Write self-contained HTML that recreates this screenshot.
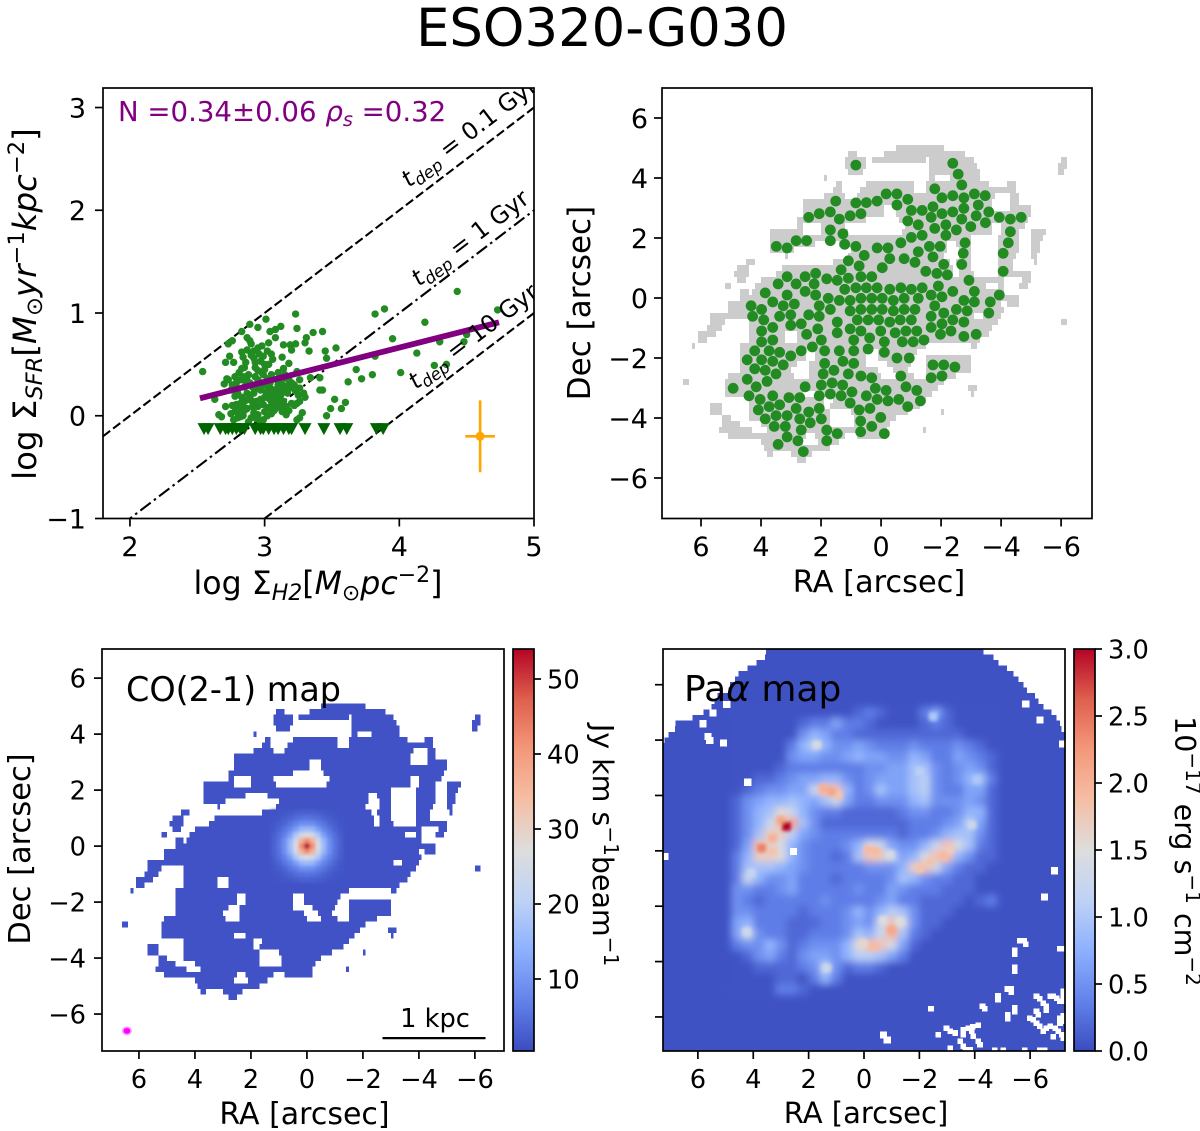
<!DOCTYPE html>
<html lang="en">
<head>
<meta charset="utf-8">
<title>ESO320-G030</title>
<style>
html,body{margin:0;padding:0;background:#fff}
svg{display:block}
text{font-family:"DejaVu Sans","Liberation Sans",sans-serif;fill:#000}
.tick{font-size:25.7px}
.lab{font-size:31px}
.it{font-style:italic}
</style>
</head>
<body>
<svg id="fig" xmlns="http://www.w3.org/2000/svg" width="1200" height="1131" viewBox="0 0 1200 1131">
<defs>
<clipPath id="cp1"><rect x="103" y="88" width="431" height="430.5"/></clipPath>
<clipPath id="cp2"><rect x="662" y="88" width="430" height="430.5"/></clipPath>
<clipPath id="cp3"><rect x="102" y="649" width="402" height="402"/></clipPath>
<clipPath id="cp4"><rect x="663" y="649" width="402" height="402"/></clipPath>
<filter id="blurPeak" filterUnits="userSpaceOnUse" x="100" y="640" width="410" height="420"><feGaussianBlur stdDeviation="1.5"/></filter>
<filter id="blurWide" filterUnits="userSpaceOnUse" x="650" y="640" width="430" height="420"><feGaussianBlur stdDeviation="3.7"/></filter>
<filter id="blurKnot" filterUnits="userSpaceOnUse" x="650" y="640" width="430" height="420"><feGaussianBlur stdDeviation="1.9"/></filter>
<linearGradient id="cbGrad" x1="0" y1="1" x2="0" y2="0"></linearGradient>
</defs>

<text x="602" y="46" text-anchor="middle" style="font-size:52.8px">ESO320-G030</text>

<g id="panel1"></g>
<g id="panel2"></g>
<g id="panel3"></g>
<g id="panel4"></g>

<text x="118" y="121" style="font-size:27.6px;fill:#800080">N =0.34±0.06 <tspan class="it" style="fill:#800080">ρ</tspan><tspan class="it" dy="5" font-size="19.3" style="fill:#800080">s</tspan><tspan dy="-5" style="fill:#800080"> =0.32</tspan></text>

<g clip-path="url(#cp1)">
<text transform="translate(409 188) rotate(-37.4)" style="font-size:23.8px"><tspan class="it">t</tspan><tspan class="it" dy="5" font-size="16.6">dep</tspan><tspan dy="-5"> = 0.1 Gyr</tspan></text>
<text transform="translate(419 287) rotate(-37.4)" style="font-size:23.8px"><tspan class="it">t</tspan><tspan class="it" dy="5" font-size="16.6">dep</tspan><tspan dy="-5"> = 1 Gyr</tspan></text>
<text transform="translate(416 390) rotate(-37.4)" style="font-size:23.8px"><tspan class="it">t</tspan><tspan class="it" dy="5" font-size="16.6">dep</tspan><tspan dy="-5"> = 10 Gyr</tspan></text>
</g>

<text x="318" y="594" text-anchor="middle" style="font-size:31.6px">log Σ<tspan class="it" dy="6" font-size="22">H2</tspan><tspan dy="-6">[</tspan><tspan class="it">M</tspan><tspan dy="6" font-size="22">⊙</tspan><tspan class="it" dy="-6">pc</tspan><tspan dy="-12" font-size="22">−2</tspan><tspan dy="12">]</tspan></text>
<text transform="translate(36 304) rotate(-90)" text-anchor="middle" style="font-size:32.4px">log Σ<tspan class="it" dy="6" font-size="22.6">SFR</tspan><tspan dy="-6">[</tspan><tspan class="it">M</tspan><tspan dy="6" font-size="22.6">⊙</tspan><tspan class="it" dy="-6">yr</tspan><tspan dy="-12" font-size="22.6">−1</tspan><tspan class="it" dy="12">kpc</tspan><tspan dy="-12" font-size="22.6">−2</tspan><tspan dy="12">]</tspan></text>

<text x="879" y="592" text-anchor="middle" style="font-size:30.4px">RA [arcsec]</text>
<text class="lab" transform="translate(590 303) rotate(-90)" text-anchor="middle">Dec [arcsec]</text>

<text x="304.5" y="1124" text-anchor="middle" style="font-size:30px">RA [arcsec]</text>
<text transform="translate(30 849) rotate(-90)" text-anchor="middle" style="font-size:30.5px">Dec [arcsec]</text>
<text x="126" y="701" style="font-size:33.4px">CO(2-1) map</text>
<text class="tick" x="435" y="1027" text-anchor="middle">1 kpc</text>
<text transform="translate(593 845) rotate(90)" text-anchor="middle" style="font-size:28.5px">Jy km s<tspan dy="-11" font-size="20">−1</tspan><tspan dy="11">beam</tspan><tspan dy="-11" font-size="20">−1</tspan></text>

<text x="866" y="1123" text-anchor="middle" style="font-size:29px">RA [arcsec]</text>
<text x="684" y="701" style="font-size:36px">Pa<tspan class="it">α</tspan> map</text>
<text transform="translate(1175 851) rotate(90)" text-anchor="middle" style="font-size:28.5px">10<tspan dy="-11" font-size="20">−17</tspan><tspan dy="11"> erg s</tspan><tspan dy="-11" font-size="20">−1</tspan><tspan dy="11"> cm</tspan><tspan dy="-11" font-size="20">−2</tspan></text>
</svg>

<script>
/* ---------- data: star-formation relation ---------- */
const ksDetections=[[4.43,1.21],[4.73,1.03],[3.82,.99],[3.89,1.04],[3.23,.99],[4.19,.91],[3.95,.75],[4.13,.61],[4.01,.42],[4.26,.49],[4.35,.5],[4.3,.72],[4.5,.79],[4.48,.72],[3.68,.45],[3.72,.36],[3.8,.4],[3.62,.33],[3.82,.58],[3.52,.16],[3.6,.13],[3.57,.07],[3.49,.07],[3.46,0],[3.53,.66],[3.45,.63],[3.46,.56],[3.43,.82],[3.36,.81],[3.31,.76],[3.3,.71],[3.33,.63],[3.34,.37],[3.41,.37],[3.43,.25],[3.41,.25],[3.24,.85],[3.12,.87],[3.08,.84],[3.04,.82],[3.01,.94],[2.95,.86],[2.89,.89],[2.83,.82],[2.76,.73],[2.73,.7],[2.87,.76],[2.89,.73],[3.08,.76],[3.03,.71],[3.14,.69],[3.19,.69],[3.23,.7],[3.2,.64],[2.87,.64],[2.92,.63],[2.95,.66],[3.02,.63],[2.99,.58],[2.92,.56],[2.84,.57],[2.74,.58],[2.77,.52],[2.71,.52],[2.54,.43],[2.72,.36],[2.7,.31],[2.63,.16],[2.71,.09],[2.66,.01],[2.68,-.01],[3.13,.57],[3.18,.51],[3.03,.5],[3,.5],[2.93,.47],[2.85,.47],[2.83,.46],[3.14,.46],[3.24,.43],[3.26,.35],[2.82,.35],[2.87,.38],[2.93,.38],[2.99,.4],[3.04,.32],[3.09,.35],[3.15,.4],[3.2,.32],[3.16,.29],[3.12,.25],[3.07,.25],[3.26,.27],[3.29,.22],[3.3,.18],[3.24,.12],[3.26,.14],[3.2,.12],[3.28,.03],[3.26,-.02],[3.24,-.04],[3.16,.01],[3.13,.04],[3.08,.07],[3.07,.16],[3.1,.16],[3,.04],[2.95,.01],[2.92,.03],[2.99,-.04],[2.97,-.06],[2.84,0],[2.82,-.01],[2.78,.04],[2.84,.1],[2.79,.11],[2.78,.19],[2.87,.22],[2.92,.22],[2.97,.16],[2.99,.11],[2.82,.12],[2.9,-.02],[2.77,-.04],[2.88,-.06],[3.04,.22],[3.08,.2],[2.79,.32],[2.89,.32],[2.94,.27],[3.02,.29],[3.09,.19],[2.73,.35],[3,.3],[3.05,.26],[3.1,.3],[3.12,.2],[3.05,.14],[3.1,.1],[2.85,.28],[2.8,.22],[2.9,.15],[2.8,.05],[2.95,.35],[3.15,.25],[3.18,.35],[2.97,.32],[2.85,.05],[3.06,.1],[3.07,.05],[2.88,.4],[3.02,.36],[2.93,.52],[2.9,.59],[2.96,.6],[2.81,.42],[3.11,.34],[3.22,.3],[3,.18],[3.14,.14],[2.75,.25],[2.83,.18],[2.86,.33],[2.91,.28],[2.97,.25],[3.01,.23],[3.03,.17],[3.06,.2],[3.09,.24],[3.11,.13],[3.13,.29],[3.17,.22],[3.19,.27],[3.23,.24],[3.25,.2],[3.12,.08],[3.07,.12],[3.03,.08],[2.95,.09],[2.91,.09],[2.87,.07],[2.81,.06],[2.76,.1],[2.75,.02],[2.8,-.02],[2.94,-.03],[3.02,0],[3.05,.02],[3.18,.05],[3.22,.1],[2.98,.42],[2.95,.44],[3.05,.4],[3.1,.42],[3,.45],[2.86,.52],[2.97,.53],[3.06,.55],[2.83,.62],[2.9,.7],[2.98,.68],[3.05,.6],[2.86,.15],[2.89,.19],[2.94,.14],[3.16,.09],[3.13,.35],[2.76,.3],[2.78,.38],[2.84,.38]];
const ksLimitX=[2.55,2.58,2.67,2.71,2.73,2.76,2.79,2.82,2.85,2.93,2.97,2.99,3.03,3.07,3.1,3.14,3.18,3.2,3.3,3.44,3.56,3.61,3.83,3.88];
const ksLimitY=-0.13;
const fitLineX=[2.52,4.74];
const fitLineY=[0.17,0.91];
const depletionOffsets=[-2,-3,-4];
const errorBarCenter=[4.6,-0.2];
const errorBarSize=[0.11,0.35];
const ksXTicks=[2,3,4,5];
const ksYTicks=[-1,0,1,2,3];

/* ---------- data: sampled apertures (RA, Dec in arcsec) ---------- */
const apertures=[[.84,4.43],[-2.39,4.49],[-2.57,4.13],[-2.69,3.77],[-1.79,3.64],[-.17,3.47],[-.53,3.47],[-.89,3.29],[-.53,3.1],[1.51,3.23],[.84,3.17],[.49,3.18],[.13,3.23],[-2.03,3.34],[-2.39,3.41],[-2.76,3.34],[-3.11,3.47],[-3.47,3.41],[-3.24,3.1],[-2.76,2.99],[-2.39,2.87],[-2.03,2.81],[-1.73,3.04],[-1.37,2.92],[-1.01,2.92],[-1.67,2.69],[-2.69,2.63],[-3.17,2.74],[-3.59,2.87],[-3.94,2.69],[-4.31,2.63],[-4.67,2.69],[-3.48,2.51],[-2.99,2.38],[-2.51,2.27],[-2.16,2.44],[-1.79,2.32],[-1.24,2.44],[-.89,2.57],[.67,2.81],[1.03,2.74],[1.39,2.63],[1.69,2.87],[2.06,2.81],[2.41,2.69],[1.69,2.27],[1.27,2.14],[1.69,1.91],[1.21,1.79],[.84,1.72],[2.48,1.91],[2.83,1.91],[3.13,1.67],[3.49,1.72],[-1.37,2.09],[-1.01,2.02],[-.66,1.84],[-2.16,2.09],[.13,1.67],[-.23,1.67],[.56,1.42],[-.29,1.31],[-.77,1.31],[-1.24,1.54],[-1.61,1.72],[-1.97,1.72],[-2.8,1.84],[-2.74,1.49],[-2.69,1.12],[-4.31,2.21],[-4.24,1.84],[-4.07,1.49],[-4.07,.89],[-1.73,1.37],[-1.13,1.19],[-2.09,1.12],[-.04,1.01],[.73,1.07],[1.09,1.24],[1.33,.94],[-1.49,.89],[-1.86,.82],[-2.21,.77],[-2.93,.59],[.67,.71],[.31,.71],[1.09,.66],[1.46,.59],[1.81,.64],[2.18,.82],[2.53,.71],[3.13,.71],[3.43,.47],[2.83,.47],[2.23,.47],[2.53,.22],[3.13,.1],[3.86,.17],[2.18,.1],[1.21,.29],[.84,.34],[.49,.34],[.13,.34],[-.29,.29],[-.66,.34],[-1.01,.29],[-1.37,.34],[-1.91,.4],[-2.39,.22],[-3.11,.22],[-3.94,.1],[1.76,-.01],[1.39,-.08],[1.03,-.08],[.67,-.01],[.31,-.01],[-.04,-.01],[-.41,-.08],[-.77,-.01],[-1.24,-.01],[-1.67,.1],[-2.03,.04],[-2.76,-.08],[-3.11,-.13],[-3.64,-.13],[4.33,-.26],[3.61,-.13],[3.26,-.26],[2.89,-.2],[2.06,-.26],[1.69,-.38],[1.03,-.43],[.67,-.38],[.31,-.38],[-.04,-.38],[-.41,-.43],[-.77,-.38],[-1.13,-.38],[-1.79,-.26],[-2.51,-.38],[-2.87,-.43],[-3.59,-.5],[4.28,-.61],[3.98,-.38],[3.38,-.61],[3.01,-.56],[2.41,-.56],[2.06,-.61],[-2.09,-.5],[3.91,-.73],[1.46,-.8],[.79,-.73],[.43,-.73],[.08,-.73],[-.29,-.8],[-.64,-.73],[-1.01,-.73],[-1.67,-.61],[-2.03,-.86],[-2.39,-.73],[-2.76,-.8],[3.61,-.98],[3.01,-.91],[2.66,-.86],[1.03,-1.03],[.67,-1.1],[2.11,-1.03],[.01,-1.1],[-.47,-1.16],[-.83,-1.1],[-1.19,-1.1],[-1.67,-.98],[3.98,-1.1],[2.48,-1.21],[1.46,-1.16],[-1.98,-1.21],[-2.33,-1.1],[-2.76,-1.28],[-3.17,-1.21],[3.61,-1.4],[3.98,-1.46],[1.99,-1.4],[.91,-1.4],[.38,-1.33],[-.11,-1.46],[-.71,-1.46],[-1.07,-1.46],[-1.43,-1.4],[4.21,-1.76],[3.73,-1.76],[3.38,-1.81],[2.66,-1.76],[2.29,-1.63],[1.88,-1.76],[1.39,-1.76],[.91,-1.76],[.43,-1.7],[-.11,-1.81],[3.01,-1.93],[4.46,-2.06],[3.98,-2.06],[3.61,-2.11],[-.53,-2],[-.94,-2],[1.88,-2.18],[1.27,-2.11],[.91,-2.18],[3.26,-2.23],[4.21,-2.36],[3.86,-2.41],[-1.73,-2.23],[-2.09,-2.23],[-2.46,-2.3],[1.57,-2.41],[3.5,-2.53],[1.93,-2.53],[1.09,-2.53],[.67,-2.6],[.31,-2.66],[-.66,-2.6],[-1.67,-2.66],[-2.03,-2.6],[4.46,-2.71],[3.8,-2.78],[1.63,-2.83],[1.99,-2.9],[1.28,-2.9],[4.16,-2.96],[4.93,-3.01],[2.53,-2.96],[.19,-3.01],[-.17,-3.08],[-.83,-2.96],[-1.19,-3.08],[.97,-3.13],[1.69,-3.2],[1.33,-3.26],[2.06,-3.26],[4.4,-3.26],[3.61,-3.26],[3.07,-3.32],[2.71,-3.32],[.49,-3.26],[.13,-3.38],[-.23,-3.43],[-.59,-3.38],[-1.31,-3.43],[4.03,-3.38],[1.03,-3.5],[-.89,-3.62],[3.73,-3.62],[3.38,-3.56],[2.83,-3.68],[2.06,-3.68],[4.09,-3.73],[.37,-3.68],[.73,-3.73],[2.41,-3.8],[3.5,-3.92],[3.13,-3.92],[2.71,-4.03],[1.99,-4.03],[.01,-3.98],[3.86,-4.03],[2.36,-4.16],[.68,-4.1],[3.56,-4.28],[3.19,-4.28],[.31,-4.28],[2.66,-4.4],[1.81,-4.4],[1.46,-4.52],[.68,-4.46],[-.11,-4.52],[3.13,-4.63],[2.77,-4.76],[1.81,-4.76],[3.43,-4.88],[2.59,-5.12]];

/* ---------- data: CO detection mask, rows of [dec, [east,west, east,west ...]] in arcsec ---------- */
const coMaskRows=[
[5,[-.5,-2.1]],
[4.8,[1.1,.8,-.1,-2.8]],
[4.6,[1.2,.5,.3,-1.5,-1.6,-3.1,-6,-6.2]],
[4.4,[1.2,.5,-1.6,-3.2,-5.9,-6.2]],
[4.2,[1.1,.6,-1.6,-3.3,-5.9,-6.1]],
[4,[1.9,1.8,-1.6,-1.8,-2.3,-3.3]],
[3.8,[1.5,1.3,.5,-1.1,-1.5,-3.6,-4.2,-4.5]],
[3.6,[1.6,1.3,.7,-1.1,-1.5,-4.5]],
[3.4,[1.9,1.2,.8,-3.8,-4.3,-4.6]],
[3.2,[2.6,-3.7,-4.3,-4.6]],
[3,[2.6,-.1,-.5,-3.7,-4.3,-5]],
[2.8,[2.6,-.1,-.5,-5]],
[2.6,[2.8,.5,-.6,-4.9]],
[2.4,[2.8,2.6,2,1.2,-.8,-3.7,-4,-4.8]],
[2.2,[3.7,2.6,2,1.1,-.7,-3.7,-4,-4.6,-5,-5.5]],
[2,[3.7,-3,-3.9,-4.6,-5,-5.4]],
[1.8,[3.7,2.2,1.4,-2.2,-2.5,-3,-3.9,-4.6,-5,-5.3]],
[1.6,[3.7,2.9,1,-2.2,-2.6,-3,-3.9,-4.6,-5,-5.3]],
[1.4,[3.2,3.1,1.1,-2.1,-2.6,-3,-3.9,-4.5,-5,-5.2]],
[1.2,[4.5,4.2,1.6,-2.3,-2.5,-3,-3.9,-4.4,-5.1,-5.2]],
[1,[4.8,4.4,3.3,-2.4,-2.6,-3,-3.9,-4.4]],
[.8,[4.9,4.4,3.5,-2.4,-2.6,-3.1,-3.9,-5]],
[.6,[4.8,4.5,4,-4.1,-4.7,-5]],
[.4,[5.2,5,4.2,-3.5,-3.9,-4.1,-4.6,-4.9]],
[.2,[4.7,4.4,4.3,-4.1]],
[0,[4.7,-4.6]],
[-.2,[5.1,-4,-4.2,-4.6]],
[-.4,[5.1,-4.1]],
[-.6,[5.7,-3.1,-3.4,-4]],
[-.8,[5.7,5.2,4.4,-3.9,-6,-6.2]],
[-1,[5.8,5.3,4.4,-3.7]],
[-1.2,[6.1,5.5,4.4,3.2,2.8,-3.6]],
[-1.4,[6.1,5.8,4.4,3.2,2.8,-3.3]],
[-1.6,[6.3,6.2,4.7,-1.5,-3,-3.2]],
[-1.8,[4.7,2.5,2.2,.5,.1,-1.2]],
[-2,[4.7,2.5,2.2,.5,.1,-1.1,-1.5,-3]],
[-2.2,[4.7,2.8,2.4,.5,-.2,-1,-1.5,-3]],
[-2.4,[4.7,3,2.4,.1,-.4,-.9,-1.5,-3]],
[-2.6,[5.1,2.9,2.4,0,-.5,-1.1,-1.5,-2.5]],
[-2.8,[6.6,6.4,5.2,-2.1]],
[-3,[5.2,-1.9,-2.9,-3.2]],
[-3.2,[5.2,2.6,2.2,-1.7,-3,-3.1]],
[-3.4,[4.4,1.9,1.6,-1.5]],
[-3.6,[5.7,5.3,4.4,1.9,1.7,-1.3]],
[-3.8,[5.7,5.3,4.4,1.7,1,-.9,-2,-2.1]],
[-4,[5.3,5,4.4,1.7,.9,-.5]],
[-4.2,[5.3,4.7,4,1.7,.9,-.3]],
[-4.4,[5.4,4.3,3.8,-.2,-1.4,-1.5]],
[-4.6,[5.1,4.1,4.1,2.5,2.2,1.2,.8,-.2]],
[-4.8,[4,2.6,2.1,1.4]],
[-5,[3.9,1.7]],
[-5.2,[3.8,3.6,3,2.3]],
[-5.4,[2.8,2.5]]
];
const coBaseValue=1.2;
/* CO nuclear peak in Jy km/s/beam, rows from Dec +1.2 down to -1.2, columns from RA +1.2 to -1.2 */
const coPeakRows=[
[1.3,1.4,1.6,2,2.5,2.9,3,2.9,2.5,2,1.6,1.4,1.3],
[1.4,1.8,2.5,3.2,4.5,5,5.5,5,4.5,3.2,2.5,1.8,1.4],
[1.6,2.5,3.5,5.5,7,9,9,9,7,5.5,3.5,2.5,1.6],
[2,3.2,5.5,7.5,11,15,16,15,11,7.5,5.5,3.2,2],
[2.5,4.5,7,11,18,24,27,24,18,11,7,4.5,2.5],
[2.9,5,9,15,24,36,42,36,24,15,9,5,2.9],
[3,5.5,9,16,27,42,55,42,27,16,9,5.5,3],
[2.9,5,9,15,24,36,42,36,24,15,9,5,2.9],
[2.5,4.5,7,11,18,24,27,24,18,11,7,4.5,2.5],
[2,3.2,5.5,7.5,11,15,16,15,11,7.5,5.5,3.2,2],
[1.6,2.5,3.5,5.5,7,9,9,9,7,5.5,3.5,2.5,1.6],
[1.4,1.8,2.5,3.2,4.5,5,5.5,5,4.5,3.2,2.5,1.8,1.4],
[1.3,1.4,1.6,2,2.5,2.9,3,2.9,2.5,2,1.6,1.4,1.3]
];
const beamCenter=[6.43,-6.6];
const scaleBarRA=[-2.7,-6.38];
const scaleBarDec=-6.86;
const coColorbarTicks=[10,20,30,40,50];

/* ---------- data: Pa-alpha map ---------- */
/* hex level per 0.4 arcsec cell: Dec 5.0 downward, RA 4.6 to -4.6; flux = level*0.15+0.04 */
const paaLevelRows=[
"000000000001210002410000",
"000000122422100001210000",
"000000354221111111111000",
"000002575334322232223210",
"000003443345443354224321",
"000012222222334466323431",
"001123445532344467323562",
"01233448cc52364467322441",
"134556546842233356333431",
"1356a8532211111233223551",
"1358ce631111111122234741",
"136bb7432222222122356631",
"14cb953222359843358c9621",
"25bba5322126cb8459cc5311",
"2666543222223335bc842110",
"285334222122223653221100",
"332234222223224322211100",
"321222223222234221111012",
"332222122235357631110000",
"45222111223438c931100000",
"48322112223658d621000000",
"23353123335acc9410000000",
"013421344357764200000000",
"001111237312210000000000",
"000011025200000000000000",
"000022100000000000000000"
];
/* bright knots: RA, Dec, flux */
const paaKnots=[[2.8,.88,3.0],[3.0,1.1,2.1],[3.3,.46,2.0],[3.7,.1,2.4],[3.3,-.02,1.8],[1.47,2.24,2.0],[1.17,2.14,2.1],[.93,2.0,1.8],[-.16,.04,1.9],[-.46,-.02,1.9],[-.94,-.14,1.4],[-2.02,-.63,1.8],[-2.39,-.39,1.8],[-2.87,-.2,1.9],[-3.1,.04,1.7],[-1.0,-2.86,2.1],[-.7,-2.5,1.5],[-1.3,-2.55,1.5],[-.34,-3.46,1.9],[.02,-3.34,1.6],[1.7,3.83,1.4],[4.24,-2.92,1.3],[1.35,-4.24,1.3],[-2.5,4.85,1.0],[4.06,-.8,1.2],[-3.9,.94,1.3],[-2.02,2.87,1.1],[-4.07,2.57,1.0]];
/* field of view limits: [dec, RA of east corner edge, RA of west corner edge] */
const paaFieldRows=[[7.2,3.54,-4.31],[7,3.58,-4.67],[6.8,3.88,-4.86],[6.6,4.2,-5.16],[6.4,4.54,-5.4],[6.2,4.66,-5.58],[6,4.84,-5.76],[5.8,4.9,-5.88],[5.6,5.3,-6.18],[5.4,5.4,-6.3],[5.2,5.5,-6.48],[5,5.8,-6.78],[4.8,6.2,-6.96],[4.6,6.8,-7.08],[4.4,6.83,-7.14],[4.2,7.07,-7.26],[4,7.2,-7.3]];
/* larger blank pixels */
const paaBlankBlocks=[[4.2,2.48],[2.55,-.02],[-6.88,-.72],[-6.52,-1.67],[5.63,4.13],[5.57,3.98],[5.08,3.89],[5.81,4.59],[4.96,5.28],[5.45,4.98],[-5.84,5.3],[-6.36,4.73],[-7.18,3.86],[7.19,-.2],[-.7,-6.65],[-.84,-6.83]];
/* single blank spaxels */
const paaBlankCells=[[-5.45,-3.6],[-5.45,-3.74],[-5.45,-4.2],[-5.45,-4.34],[-5.63,-3.25],[-5.78,-3.25],[-5.85,-3.38],[-7.08,-3.53],[-7.22,-3.53],[-5.17,-4.99],[-5.32,-4.99],[-5.32,-5.11],[-4.84,-5.23],[-4.84,-5.38],[-2.42,-5.7],[-4.28,-5.62],[-4.36,-5.71],[-5.45,-5.66],[-5.45,-5.81],[-5.19,-5.93],[-5.19,-6.07],[-6.23,-5.26],[-6.35,-5.35],[-6.47,-5.5],[-6.59,-5.62],[-6.72,-5.26],[-6.84,-5.26],[-6.96,-5.32],[-7.08,-5.44],[-7.2,-5.08],[-7.2,-5.26],[-7.2,-5.44],[-6.59,-5.76],[-6.23,-5.8],[-6.29,-5.92],[-5.99,-6.04],[-6.11,-6.1],[-6.23,-6.22],[-6.35,-6.34],[-6.47,-6.52],[-6.59,-6.4],[-6.72,-6.34],[-6.9,-6.4],[-7.02,-6.52],[-7.14,-6.64],[-7.2,-6.76],[-6.84,-6.72],[-7.08,-6.04],[-7.2,-5.95],[-7.08,-6.22],[-7.2,-6.16],[-2.98,-6.4],[-3.11,-6.52],[-3.29,-6.58],[-2.68,-6.64],[-3.59,-6.46],[-3.77,-6.4],[-3.92,-6.36],[-4.13,-6.3],[-3.59,-6.64],[-3.47,-6.88],[-3.59,-7.06],[-3.65,-7.18],[-3.89,-6.52],[-3.95,-6.7],[-4.13,-6.88],[-4.19,-7],[-3.11,-7.14],[-3.83,-7.18],[-4.73,-7.21],[-5.03,-7.21],[-5.81,-7.21],[-6.35,-7.21],[-6.53,-7.21]];
const paaColorbarTicks=[0,0.5,1,1.5,2,2.5,3];

/* ---------- shared ticks ---------- */
const skyTicks=[6,4,2,0,-2,-4,-6];

/* ---------- helpers ---------- */
const NS='http://www.w3.org/2000/svg';
function make(tag,attrs,parent){
  const e=document.createElementNS(NS,tag);
  for(const k in attrs)e.setAttribute(k,attrs[k]);
  parent.appendChild(e);
  return e;
}
function axis(box,dom){
  return {
    box:box,
    x:v=>box.l+(v-dom.x0)/(dom.x1-dom.x0)*(box.r-box.l),
    y:v=>box.t+(dom.y1-v)/(dom.y1-dom.y0)*(box.b-box.t),
    dom:dom
  };
}
const coolStops=[[59,76,192],[98,130,234],[141,176,254],[190,210,245],[221,221,221],[245,190,165],[244,152,122],[222,96,77],[180,4,38]];
function cool(t){
  t=Math.max(0,Math.min(1,t))*(coolStops.length-1);
  const i=Math.min(coolStops.length-2,Math.floor(t)),f=t-i;
  const c=coolStops[i].map((a,k)=>Math.round(a+(coolStops[i+1][k]-a)*f));
  return 'rgb('+c.join(',')+')';
}
const minus=v=>String(v).replace('-','\u2212');

const a1=axis({l:103,r:534,t:88,b:518.5},{x0:1.8,x1:5,y0:-1,y1:3.19});
const a2=axis({l:662,r:1092,t:88,b:518.5},{x0:7.3,x1:-7.03,y0:-7.35,y1:7});
const a3=axis({l:102,r:504,t:649,b:1051},{x0:7.32,x1:-7.04,y0:-7.32,y1:7.04});
const a4=axis({l:663,r:1065,t:649,b:1051},{x0:7.26,x1:-7.26,y0:-7.23,y1:7.29});

function frame(a,parent,xt,yt,showY,xBase,fontPx,labelGap){
  const b=a.box;
  const sp=make('rect',{x:b.l,y:b.t,width:b.r-b.l,height:b.b-b.t,fill:'none',stroke:'#000','stroke-width':1.7},parent);
  
  
  xt.forEach(v=>{
    const px=a.x(v);
    const t=make('line',{x1:px,x2:px,y1:b.b,y2:b.b+8,stroke:'#000','stroke-width':1.7},parent);
    
    
    const l=make('text',{x:px,y:xBase,'text-anchor':'middle',style:'font-size:'+fontPx+'px'},parent);
    
    
    l.textContent=minus(v);
  });
  yt.forEach(v=>{
    const py=a.y(v);
    const t=make('line',{x1:b.l-8,x2:b.l,y1:py,y2:py,stroke:'#000','stroke-width':1.7},parent);
    
    
    if(showY){
      const l=make('text',{x:b.l-labelGap,y:py+fontPx*.364,'text-anchor':'end',style:'font-size:'+fontPx+'px'},parent);
      
      
      l.textContent=minus(v);
    }
  });
}
function maskCells(a,parent,fill){
  coMaskRows.forEach(row=>{
    const dec=row[0],runs=row[1];
    for(let i=0;i<runs.length;i+=2){
      const x1=a.x(runs[i]),x2=a.x(runs[i+1]),y1=a.y(dec+.1),y2=a.y(dec-.1);
      const r=make('rect',{x:x1,y:y1,width:x2-x1,height:y2-y1,fill:fill,'shape-rendering':'crispEdges'},parent);
      
      
    }
  });
}
function colorbar(parent,x,y,w,h,ticks,vmin,vmax,fmt){
  const r=make('rect',{x:x,y:y,width:w,height:h,fill:'url(#cbGrad)'},parent);
  
  
  const o=make('rect',{x:x,y:y,width:w,height:h,fill:'none',stroke:'#000','stroke-width':1.7},parent);
  
  
  ticks.forEach(v=>{
    const py=y+h-(v-vmin)/(vmax-vmin)*h;
    const t=make('line',{x1:x+w,x2:x+w+7,y1:py,y2:py,stroke:'#000','stroke-width':1.7},parent);
    
    
    const l=make('text',{x:x+w+13,y:py+9.3,'class':'tick'},parent);
    
    
    l.textContent=fmt(v);
  });
}

/* gradient */
const grad=document.getElementById('cbGrad');
for(let i=0;i<=32;i++){
  make('stop',{offset:(i/32),'stop-color':cool(i/32)},grad);
}

/* ---------- panel 1 ---------- */
(function(){
  const root=document.getElementById('panel1');
  const g=make('g',{'clip-path':'url(#cp1)'},root);
  
  
  depletionOffsets.forEach((off,i)=>{
    const xa=a1.dom.x0,xb=a1.dom.x1;
    const ln=make('line',{x1:a1.x(xa),y1:a1.y(xa+off),x2:a1.x(xb),y2:a1.y(xb+off),stroke:'#000','stroke-width':2.1,'stroke-dasharray':i===1?'13 4 2.5 4':'9 3.7'},g);
    
    
  });
  ksDetections.forEach(p=>{
    const c=make('circle',{cx:a1.x(p[0]),cy:a1.y(p[1]),r:3.7,fill:'#228b22'},g);
    
    
  });
  ksLimitX.forEach(v=>{
    const px=a1.x(v),py=a1.y(ksLimitY);
    const t=make('polygon',{points:(px-6.5)+','+(py-6)+' '+(px+6.5)+','+(py-6)+' '+px+','+(py+6),fill:'#006400'},g);
    
    
  });
  const fit=make('line',{x1:a1.x(fitLineX[0]),y1:a1.y(fitLineY[0]),x2:a1.x(fitLineX[1]),y2:a1.y(fitLineY[1]),stroke:'#800080','stroke-width':5.8},g);
  
  
  const ex=make('line',{x1:a1.x(errorBarCenter[0]-errorBarSize[0]),x2:a1.x(errorBarCenter[0]+errorBarSize[0]),y1:a1.y(errorBarCenter[1]),y2:a1.y(errorBarCenter[1]),stroke:'#ffa500','stroke-width':2.6},g);
  
  
  const ey=make('line',{x1:a1.x(errorBarCenter[0]),x2:a1.x(errorBarCenter[0]),y1:a1.y(errorBarCenter[1]-errorBarSize[1]),y2:a1.y(errorBarCenter[1]+errorBarSize[1]),stroke:'#ffa500','stroke-width':2.6},g);
  
  
  const ec=make('circle',{cx:a1.x(errorBarCenter[0]),cy:a1.y(errorBarCenter[1]),r:4.5,fill:'#ffa500'},g);
  
  
  frame(a1,root,ksXTicks,ksYTicks,true,556,27,17);
})();

/* ---------- panel 2 ---------- */
(function(){
  const root=document.getElementById('panel2');
  const g=make('g',{'clip-path':'url(#cp2)'},root);
  
  
  maskCells(a2,g,'#cccccc');
  apertures.forEach(p=>{
    const c=make('circle',{cx:a2.x(p[0]),cy:a2.y(p[1]),r:5.4,fill:'#228b22'},g);
    
    
  });
  frame(a2,root,skyTicks,skyTicks,true,556,27,14);
})();

/* ---------- panel 3 ---------- */
(function(){
  const root=document.getElementById('panel3');
  const g=make('g',{'clip-path':'url(#cp3)'},root);
  
  
  const cmin=0.4,cmax=54;
  maskCells(a3,g,cool((coBaseValue-cmin)/(cmax-cmin)));
  const pk=make('g',{filter:'url(#blurPeak)'},g);
  
  
  coPeakRows.forEach((row,j)=>{
    const dec=1.2-j*.2;
    row.forEach((v,i)=>{
      const ra=1.2-i*.2;
      const r=make('rect',{x:a3.x(ra+.1),y:a3.y(dec+.1),width:a3.x(ra-.1)-a3.x(ra+.1)+.4,height:a3.y(dec-.1)-a3.y(dec+.1)+.4,fill:cool((v-cmin)/(cmax-cmin))},pk);
      
      
    });
  });
  const beamOuter=make('ellipse',{cx:a3.x(beamCenter[0]),cy:a3.y(beamCenter[1]),rx:5,ry:4.4,fill:'#ff9cff'},g);
  
  
  const beam=make('ellipse',{cx:a3.x(beamCenter[0]),cy:a3.y(beamCenter[1]),rx:3.4,ry:2.9,fill:'#ff00ff'},g);
  
  
  const sb=make('line',{x1:a3.x(scaleBarRA[0]),x2:a3.x(scaleBarRA[1]),y1:a3.y(scaleBarDec),y2:a3.y(scaleBarDec),stroke:'#000','stroke-width':2.2},g);
  
  
  frame(a3,root,skyTicks,skyTicks,true,1088,25.7,16);
  colorbar(root,513,649,21,402,coColorbarTicks,cmin,cmax,v=>String(v));
})();

/* ---------- panel 4 ---------- */
(function(){
  const root=document.getElementById('panel4');
  const g=make('g',{'clip-path':'url(#cp4)'},root);
  
  
  const vmax=3;
  const bg=make('rect',{x:a4.box.l,y:a4.box.t,width:402,height:402,fill:cool(0.04/vmax)},g);
  
  
  const wide=make('g',{filter:'url(#blurWide)'},g);
  
  
  paaLevelRows.forEach((row,j)=>{
    const dec=5-j*.4;
    for(let i=0;i<row.length;i++){
      const flux=parseInt(row[i],16)*.15+.04;
      const ra=4.6-i*.4;
      const r=make('rect',{x:a4.x(ra+.2),y:a4.y(dec+.2),width:a4.x(ra-.2)-a4.x(ra+.2)+.4,height:a4.y(dec-.2)-a4.y(dec+.2)+.4,fill:cool(flux/vmax)},wide);
      
      
    }
  });
  const kn=make('g',{filter:'url(#blurKnot)'},g);
  
  
  paaKnots.slice().sort((p,q)=>p[2]-q[2]).forEach(p=>{
    const r=make('rect',{x:a4.x(p[0]+.16),y:a4.y(p[1]+.16),width:a4.x(p[0]-.16)-a4.x(p[0]+.16),height:a4.y(p[1]-.16)-a4.y(p[1]+.16),fill:cool(p[2]/vmax),rx:2},kn);
    
    
  });
  paaFieldRows.forEach(row=>{
    const y1=a4.y(row[0]+.1),y2=a4.y(row[0]-.1);
    const e=make('rect',{x:a4.box.l,y:y1,width:a4.x(row[1])-a4.box.l,height:y2-y1,fill:'#fff','shape-rendering':'crispEdges'},g);
    
    
    const w=make('rect',{x:a4.x(row[2]),y:y1,width:a4.box.r-a4.x(row[2]),height:y2-y1,fill:'#fff','shape-rendering':'crispEdges'},g);
    
    
  });
  paaBlankBlocks.forEach(p=>{
    const r=make('rect',{x:a4.x(p[0]+.13),y:a4.y(p[1]+.13),width:a4.x(p[0]-.13)-a4.x(p[0]+.13),height:a4.y(p[1]-.13)-a4.y(p[1]+.13),fill:'#fff','shape-rendering':'crispEdges'},g);
    
    
  });
  paaBlankCells.forEach(p=>{
    const r=make('rect',{x:a4.x(p[0]+.1),y:a4.y(p[1]+.1),width:a4.x(p[0]-.1)-a4.x(p[0]+.1),height:a4.y(p[1]-.1)-a4.y(p[1]+.1),fill:'#fff','shape-rendering':'crispEdges'},g);
    
    
  });
  frame(a4,root,skyTicks,skyTicks,false,1088,25.7,16);
  colorbar(root,1074,649,21,402,paaColorbarTicks,0,vmax,v=>v.toFixed(1));
})();
</script>
</body>
</html>
